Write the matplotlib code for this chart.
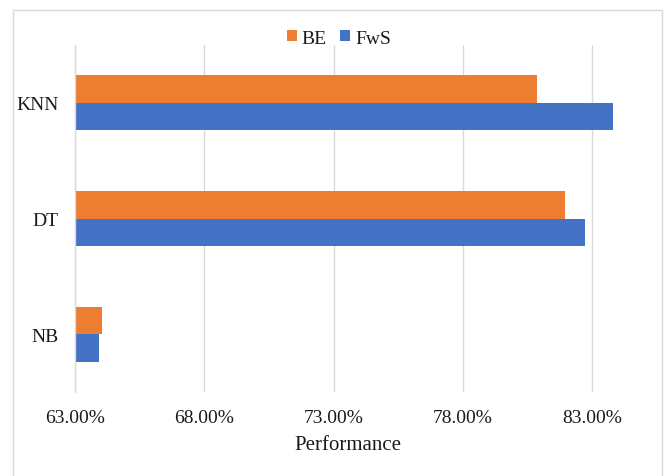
import numpy as np
import matplotlib
matplotlib.use("Agg")
import matplotlib.pyplot as plt
from matplotlib.patches import Rectangle

plt.rcParams['font.family'] = ['Liberation Serif', 'DejaVu Serif']

# accuracy per classifier (fraction, 0-1)
models = ["NB", "DT", "KNN"]
be = [0.6403, 0.8193, 0.8086]
fws = [0.6391, 0.8272, 0.8382]
xticks = [0.63, 0.68, 0.73, 0.78, 0.83]

orange = "#ED7D31"
blue = "#4472C4"
grid = "#D9D9D9"
txt = "#1a1a1a"

fig = plt.figure(figsize=(6.66, 4.77), dpi=100)
ax = fig.add_axes([75/666, 1-393/477, (644-75)/666, (393-46)/477])

# outer chart border
fig.patches.append(Rectangle((13/666, -0.02), (662-13)/666, 1-11/477+0.02,
                             transform=fig.transFigure, fill=False,
                             edgecolor=grid, linewidth=1.0))

y = np.arange(len(models))
h = 0.238
base = xticks[0]
b1 = ax.barh(y + h/2, np.array(be) - base, height=h, left=base, color=orange, label="BE")
b2 = ax.barh(y - h/2, np.array(fws) - base, height=h, left=base, color=blue, label="FwS")

ax.set_xlim(0.63, 0.85)
ax.set_ylim(-0.5, 2.5)
ax.set_xticks(xticks)
ax.set_xticklabels(["{:.2f}%".format(v*100) for v in xticks])
ax.set_yticks(y)
ax.set_yticklabels(models)
ax.tick_params(length=0, labelsize=14, colors=txt, pad=12)

ax.grid(axis='x', color=grid, linewidth=1.0)
ax.set_axisbelow(True)
for s in ["top", "right", "bottom"]:
    ax.spines[s].set_visible(False)
ax.spines["left"].set_color(grid)
ax.spines["left"].set_linewidth(1.0)

fig.text(348/666, 1-445/477, "Performance", ha='center', va='center',
         fontsize=15, color=txt)

fig.legend(handles=[b1, b2], loc='center', bbox_to_anchor=(339/666, 1-39/477),
           ncol=2, frameon=False, fontsize=14, handlelength=0.5, handleheight=0.5,
           handletextpad=0.25, columnspacing=0.7, labelcolor=txt)

fig.savefig("out.png", dpi=100)
